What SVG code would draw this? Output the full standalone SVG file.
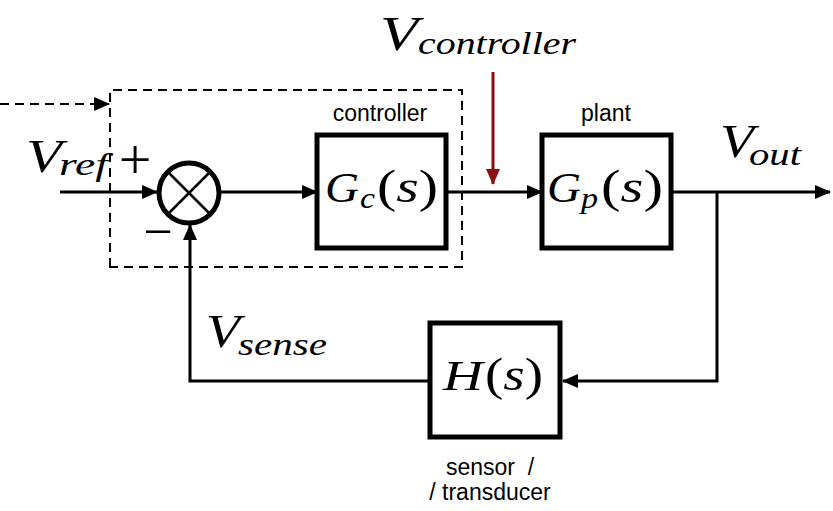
<svg xmlns="http://www.w3.org/2000/svg" width="833" height="511" viewBox="0 0 833 511">
<defs>
<marker id="ah" markerUnits="userSpaceOnUse" markerWidth="16" markerHeight="14" refX="15" refY="7" orient="auto"><path d="M0,0 L16,7 L0,14 z" fill="#000"/></marker>
<marker id="ahr" markerUnits="userSpaceOnUse" markerWidth="16" markerHeight="14" refX="15" refY="7" orient="auto"><path d="M0,0 L16,7 L0,14 z" fill="#8b1010"/></marker>
</defs>
<style>
.box{fill:#fff;stroke:#000;stroke-width:5}
.wire{fill:none;stroke:#000;stroke-width:3}
.dash{fill:none;stroke:#000;stroke-width:2;stroke-dasharray:9,6}
.lbl{font-family:"Liberation Sans",Arial,sans-serif;font-size:23px;fill:#000;text-anchor:middle;white-space:pre}
.m{font-family:"Liberation Serif","Times New Roman",serif;fill:#000}
.i{font-style:italic}
</style>
<g id="connectors">
<path class="dash" d="M110,267 L110,90 L462,90 L462,267 Z"/>
<line class="dash" x1="0" y1="104" x2="109" y2="104" marker-end="url(#ah)"/>
<line class="wire" x1="60" y1="192" x2="157" y2="192" marker-end="url(#ah)"/>
<line class="wire" x1="221" y1="192" x2="317" y2="192" marker-end="url(#ah)"/>
<line class="wire" x1="446" y1="192" x2="542" y2="192" marker-end="url(#ah)"/>
<line class="wire" x1="671" y1="192" x2="830" y2="192" marker-end="url(#ah)"/>
<polyline class="wire" points="717,192 717,381 563,381" marker-end="url(#ah)"/>
<polyline class="wire" points="430,381 190,381 190,225" marker-end="url(#ah)"/>
<line x1="493" y1="72" x2="493" y2="184" stroke="#8b1010" stroke-width="3" marker-end="url(#ahr)"/>
</g>
<g id="sum">
<circle cx="189" cy="193" r="30" fill="#fff" stroke="#000" stroke-width="5"/>
<path d="M168,172 L210,214 M210,172 L168,214" stroke="#000" stroke-width="2.5"/>
<text class="m" x="135" y="179" font-size="58" text-anchor="middle">+</text>
<text class="m" x="158" y="249" font-size="52" text-anchor="middle">−</text>
</g>
<g id="controller">
<rect class="box" x="317" y="135" width="129" height="113"/>
<text class="lbl" x="380" y="121">controller</text>
<text class="m i" x="325" y="202" font-size="42" textLength="34" lengthAdjust="spacingAndGlyphs">G</text>
<text class="m i" x="360" y="208" font-size="30" textLength="15" lengthAdjust="spacingAndGlyphs">c</text>
<text class="m" x="377" y="202" font-size="46" textLength="61" lengthAdjust="spacingAndGlyphs">(<tspan class="i">s</tspan>)</text>
</g>
<g id="plant">
<rect class="box" x="542" y="135" width="129" height="113"/>
<text class="lbl" x="606" y="121">plant</text>
<text class="m i" x="547" y="202" font-size="42" textLength="34" lengthAdjust="spacingAndGlyphs">G</text>
<text class="m i" x="581" y="208" font-size="30" textLength="17" lengthAdjust="spacingAndGlyphs">p</text>
<text class="m" x="601" y="202" font-size="46" textLength="62" lengthAdjust="spacingAndGlyphs">(<tspan class="i">s</tspan>)</text>
</g>
<g id="sensor">
<rect class="box" x="430" y="323" width="130" height="114"/>
<text class="m i" x="443" y="390" font-size="42" textLength="40" lengthAdjust="spacingAndGlyphs">H</text>
<text class="m" x="485" y="390" font-size="46" textLength="58" lengthAdjust="spacingAndGlyphs">(<tspan class="i">s</tspan>)</text>
<text class="lbl" x="490" y="475" xml:space="preserve">sensor  /</text>
<text class="lbl" x="490" y="500">/ transducer</text>
</g>
<g id="labels">
<text class="m i" x="26" y="172" font-size="46" textLength="36" lengthAdjust="spacingAndGlyphs">V</text>
<text class="m i" x="59" y="175" font-size="31" textLength="49" lengthAdjust="spacingAndGlyphs">ref</text>
<text class="m i" x="380" y="50" font-size="48" textLength="38" lengthAdjust="spacingAndGlyphs">V</text>
<text class="m i" x="418" y="54" font-size="31" textLength="158" lengthAdjust="spacingAndGlyphs">controller</text>
<text class="m i" x="720" y="157" font-size="46" textLength="34" lengthAdjust="spacingAndGlyphs">V</text>
<text class="m i" x="749" y="165" font-size="31" textLength="52" lengthAdjust="spacingAndGlyphs">out</text>
<text class="m i" x="206" y="347" font-size="46" textLength="34" lengthAdjust="spacingAndGlyphs">V</text>
<text class="m i" x="238" y="355" font-size="31" textLength="89" lengthAdjust="spacingAndGlyphs">sense</text>
</g>
</svg>
